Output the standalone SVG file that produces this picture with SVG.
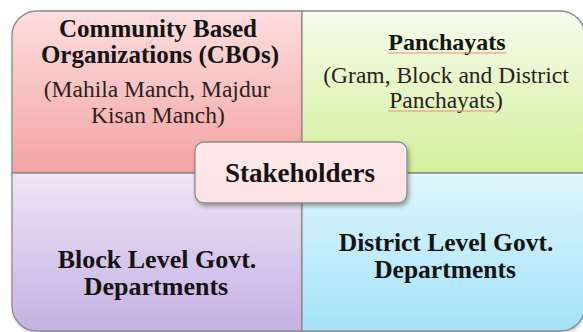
<svg xmlns="http://www.w3.org/2000/svg" width="583" height="332" viewBox="0 0 583 332">
  <style>
    .quad { stroke: #8c8c8c; stroke-width: 1.3; }
    .b { font-family: 'Liberation Serif', 'Times New Roman', serif; font-weight: bold; fill: #141414; text-anchor: middle; }
    .r { font-family: 'Liberation Serif', 'Times New Roman', serif; font-weight: normal; fill: #2a1f1f; text-anchor: middle; }
    .ul { stroke: #f08a7a; stroke-width: 1.2; }
  </style>
  <defs>
    <linearGradient id="gTL" x1="0" y1="0" x2="0" y2="1">
      <stop offset="0" stop-color="#fcdede"/>
      <stop offset="1" stop-color="#f4a3a3"/>
    </linearGradient>
    <linearGradient id="gTR" x1="0" y1="0" x2="0" y2="1">
      <stop offset="0" stop-color="#f6fbec"/>
      <stop offset="1" stop-color="#d3f09c"/>
    </linearGradient>
    <linearGradient id="gBL" x1="0" y1="0" x2="0" y2="1">
      <stop offset="0" stop-color="#eee6f6"/>
      <stop offset="1" stop-color="#c5b0e2"/>
    </linearGradient>
    <linearGradient id="gBR" x1="0" y1="0" x2="0" y2="1">
      <stop offset="0" stop-color="#e0f6fc"/>
      <stop offset="1" stop-color="#a3e2f8"/>
    </linearGradient>
    <linearGradient id="gC" x1="0" y1="0" x2="0" y2="1">
      <stop offset="0" stop-color="#fdeaea"/>
      <stop offset="1" stop-color="#fde2e2"/>
    </linearGradient>
    <filter id="sh" x="-10%" y="-10%" width="130%" height="140%">
      <feDropShadow dx="1.5" dy="2.5" stdDeviation="2" flood-color="#000" flood-opacity="0.35"/>
    </filter>
    <filter id="shq" x="-5%" y="-5%" width="110%" height="115%">
      <feDropShadow dx="0.8" dy="1.5" stdDeviation="1.2" flood-color="#000" flood-opacity="0.25"/>
    </filter>
  </defs>

  <rect width="583" height="332" fill="#ffffff"/>

  <g id="cbo">
    <path class="quad" fill="url(#gTL)" filter="url(#shq)" d="M12,173 V36 A25,25 0 0 1 37,11 H302 V173 Z"/>
    <text class="b" font-size="25" x="158" y="37">Community Based</text>
    <text class="b" font-size="25" x="160" y="63">Organizations (CBOs)</text>
    <text class="r" font-size="23.5" x="157" y="97">(Mahila Manch, Majdur</text>
    <text class="r" font-size="23.5" x="158" y="123">Kisan Manch)</text>
  </g>

  <g id="panchayats">
    <path class="quad" fill="url(#gTR)" filter="url(#shq)" d="M302,11 H560 A25,25 0 0 1 585,36 V173 H302 Z"/>
    <text class="b" font-size="24" x="447" y="50">Panchayats</text>
    <line class="ul" x1="388" y1="53" x2="506" y2="53"/>
    <text class="r" font-size="23.5" x="446" y="83">(Gram, Block and District</text>
    <text class="r" font-size="23.5" x="446" y="108">Panchayats)</text>
    <line class="ul" x1="388" y1="111" x2="500" y2="111"/>
  </g>

  <g id="block">
    <path class="quad" fill="url(#gBL)" filter="url(#shq)" d="M12,173 H302 V331 H37 A25,25 0 0 1 12,306 Z"/>
    <text class="b" font-size="26" x="157" y="268">Block Level Govt.</text>
    <text class="b" font-size="26" x="156" y="295">Departments</text>
  </g>

  <g id="district">
    <path class="quad" fill="url(#gBR)" filter="url(#shq)" d="M302,173 H585 V306 A25,25 0 0 1 560,331 H302 Z"/>
    <text class="b" font-size="25.5" x="446" y="251">District Level Govt.</text>
    <text class="b" font-size="25.5" x="445" y="278">Departments</text>
  </g>

  <g id="connectors"></g>

  <g id="stakeholders">
    <rect x="195" y="142" width="212" height="61" rx="9" ry="9" fill="url(#gC)" stroke="#8c8c8c" stroke-width="1.3" filter="url(#sh)"/>
    <text class="b" font-size="27" x="300" y="182">Stakeholders</text>
  </g>
</svg>
